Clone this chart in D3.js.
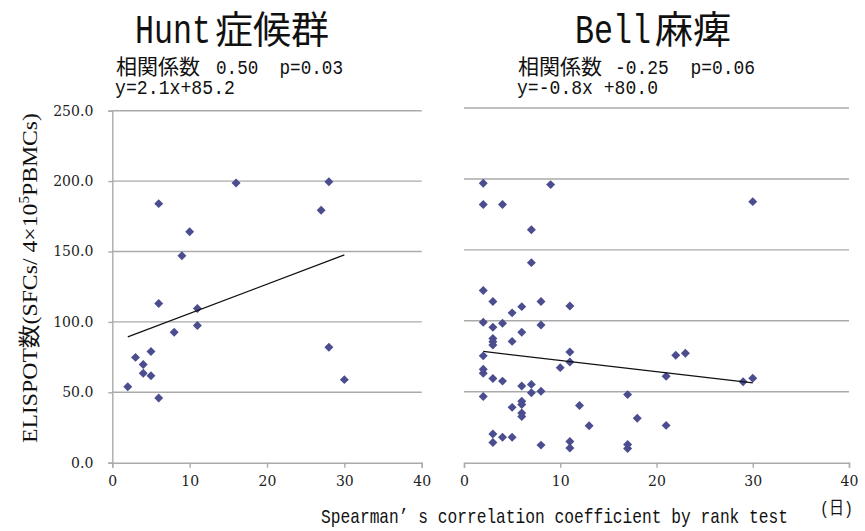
<!DOCTYPE html>
<html>
<head>
<meta charset="utf-8">
<script src="https://cdn.jsdelivr.net/npm/d3@7"></script>
<style>
  body { margin: 0; background: #fff; }
  text { white-space: pre; }
  .tick text { font-family: "DejaVu Serif", serif; font-size: 14px; fill: #222; }
</style>
</head>
<body>
<svg id="chart" width="865" height="531"></svg>
<script>
// data
var xTicks = [0, 10, 20, 30, 40];
var yTicks = [0, 50, 100, 150, 200, 250];

var huntDays  = [2, 3, 4, 4, 5, 5, 6, 6, 6, 8, 9, 10, 11, 11, 16, 27, 28, 28, 30];
var huntSpots = [54, 74.8, 69.8, 63.5, 79, 61.7, 46, 113, 184, 92.6, 147, 164, 109.5, 97.5, 198.7, 179.3, 199.6, 82, 59];
var huntTrend = [[2, 89.4], [30, 147.6]];

var bellDays = [2, 2, 2, 2, 2, 2, 2, 2,
                3, 3, 3, 3, 3, 3, 3, 3,
                4, 4, 4, 4,
                5, 5, 5, 5,
                6, 6, 6, 6, 6, 6, 6,
                7, 7, 7, 7,
                8, 8, 8, 8,
                9, 10,
                11, 11, 11, 11, 11,
                12, 13,
                17, 17, 17, 18,
                21, 21, 22, 23, 29, 30, 30];
var bellSpots = [197, 182, 121.4, 99, 75.3, 65.8, 63, 46.6,
                 113.6, 95.5, 87.6, 85.2, 82.9, 59.4, 20.2, 14.2,
                 182, 98.3, 57.5, 18,
                 105.6, 85.5, 39, 18,
                 110, 92, 54, 43.3, 41, 35, 32.5,
                 164.2, 141, 55.2, 49.3,
                 113.6, 97, 50.4, 12.4,
                 196, 67,
                 110.5, 78, 71, 15, 10.3,
                 40.3, 26,
                 48, 12.8, 10, 31.3,
                 61, 26.3, 75.8, 77.2, 57, 184, 59.5];
var bellTrend = [[2, 78.4], [30, 56.2]];

var svg = d3.select("#chart");
var gridColor = "#aaaaaa", markColor = "#4b4d8f";

var diamond = {
  draw: function(ctx, size) {
    var r = Math.sqrt(size / 2);
    ctx.moveTo(0, -r); ctx.lineTo(r, 0); ctx.lineTo(0, r); ctx.lineTo(-r, 0); ctx.closePath();
  }
};

function panel(opt) {
  var x = d3.scaleLinear().domain([0, 40]).range([opt.left, opt.right]);
  var y = d3.scaleLinear().domain([0, 250]).range([462.7, opt.top]);
  var g = svg.append("g");

  // horizontal gridlines
  g.selectAll("line.grid").data(yTicks.slice(1)).enter().append("line")
    .attr("class", "grid")
    .attr("x1", opt.left).attr("x2", opt.right)
    .attr("y1", function(d) { return y(d); }).attr("y2", function(d) { return y(d); })
    .attr("stroke", gridColor).attr("stroke-width", 1.4);

  var xa = g.append("g").attr("transform", "translate(0," + y(0) + ")")
    .call(d3.axisBottom(x).tickValues(xTicks).tickSize(5).tickPadding(8).tickFormat(d3.format("d")));
  xa.selectAll("path, line").attr("stroke", gridColor).attr("stroke-width", 1.4);

  if (opt.yAxis) {
    var ya = g.append("g").attr("transform", "translate(" + opt.left + ",0)")
      .call(d3.axisLeft(y).tickValues(yTicks).tickSize(4).tickPadding(15).tickFormat(d3.format(".1f")));
    ya.selectAll("path, line").attr("stroke", gridColor).attr("stroke-width", 1.4);
  }

  var pts = opt.days.map(function(d, i) { return [d, opt.spots[i]]; });
  g.selectAll("path.pt").data(pts).enter().append("path")
    .attr("class", "pt")
    .attr("transform", function(d) { return "translate(" + x(d[0]) + "," + y(d[1]) + ")"; })
    .attr("d", d3.symbol().type(diamond).size(40))
    .attr("fill", markColor);

  g.append("path").datum(opt.trend)
    .attr("fill", "none").attr("stroke", "#111").attr("stroke-width", 1.2)
    .attr("d", d3.line().x(function(d) { return x(d[0]); }).y(function(d) { return y(d[1]); }));
}

panel({ left: 112.3, right: 421.7, top: 110.7, yAxis: true, days: huntDays, spots: huntSpots, trend: huntTrend });
panel({ left: 464, right: 849, top: 108, yAxis: false, days: bellDays, spots: bellSpots, trend: bellTrend });

// titles (latin part is half-width, like the original gothic font)
var mono = "'Liberation Mono', monospace", cjk = "'Noto Sans CJK JP', sans-serif";
function txt(s, x, y, size, family, len) {
  var t = svg.append("text").attr("x", x).attr("y", y)
    .attr("font-family", family).attr("font-size", size).attr("fill", "#111").text(s);
  if (len) t.attr("textLength", len).attr("lengthAdjust", "spacingAndGlyphs");
  return t;
}
txt("Hunt", 135, 43, 40, mono, 76);
txt("症候群", 215, 43, 38, cjk);
txt("Bell", 575, 43, 40, mono, 76);
txt("麻痺", 655, 43, 38, cjk);

txt("相関係数", 116, 74, 21, cjk);
txt("0.50  p=0.03", 216, 74, 21, mono, 127);
txt("y=2.1x+85.2", 115, 94, 21, mono, 120);

txt("相関係数", 518, 74, 21, cjk);
txt("-0.25  p=0.06", 615, 74, 21, mono, 140);
txt("y=-0.8x +80.0", 517, 94, 21, mono, 141);

// y axis title
var yt = svg.append("text")
  .attr("transform", "translate(37,278) rotate(-90)")
  .attr("text-anchor", "middle")
  .attr("font-family", "'Liberation Serif', 'Noto Sans CJK JP', serif")
  .attr("font-size", 22).attr("fill", "#111")
  .attr("textLength", 330).attr("lengthAdjust", "spacingAndGlyphs");
yt.append("tspan").text("ELISPOT数(SFCs/ 4×10");
yt.append("tspan").attr("dy", -8).attr("font-size", 14).text("5");
yt.append("tspan").attr("dy", 8).text("PBMCs)");

txt("(日)", 820, 514, 18, "'Liberation Mono', 'Noto Sans CJK JP', monospace", 33);
txt("Spearman’ s correlation coefficient by rank test", 321, 523, 21, mono, 467);
</script>
</body>
</html>
